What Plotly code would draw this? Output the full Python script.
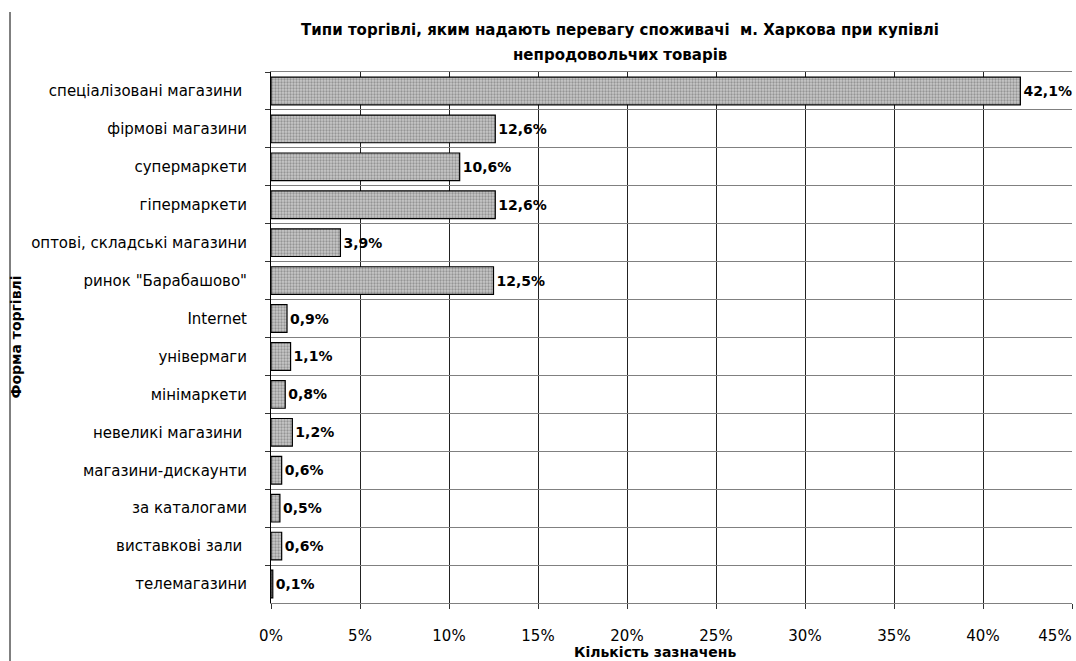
import plotly.graph_objects as go

categories = [
    "спеціалізовані магазини ",
    "фірмові магазини",
    "супермаркети",
    "гіпермаркети",
    "оптові, складські магазини",
    "ринок \"Барабашово\"",
    "Internet",
    "універмаги",
    "мінімаркети",
    "невеликі магазини ",
    "магазини-дискаунти",
    "за каталогами",
    "виставкові зали ",
    "телемагазини",
]
values = [42.1, 12.6, 10.6, 12.6, 3.9, 12.5, 0.9, 1.1, 0.8, 1.2, 0.6, 0.5, 0.6, 0.1]
x_ticks = [0, 5, 10, 15, 20, 25, 30, 35, 40]
x_last_tick = [45]
x_tick_labels = [f"{t}%" for t in x_ticks]
x_last_label = [f"{t}%" for t in x_last_tick]
title_line1 = "Типи торгівлі, яким надають перевагу споживачі  м. Харкова при купівлі"
title_line2 = "непродовольчих товарів"

labels = [f"{v:.1f}".replace(".", ",") + "%" for v in values]

FONT = "DejaVu Sans, Liberation Sans, Arial, sans-serif"

L, R, T, B = 271, 4, 72, 58
PW = 1076 - L - R
PH = 661 - T - B


def px_x(x):
    return (x - L) / PW


def px_y(y):
    return (661 - B - y) / PH


fig = go.Figure()
fig.add_trace(go.Bar(
    y=categories,
    x=values,
    orientation="h",
    text=labels,
    textposition="outside",
    cliponaxis=False,
    textfont=dict(family=FONT, size=14, color="black", weight="bold"),
    marker=dict(
        color="#c0c0c0",
        line=dict(color="black", width=1.2),
        pattern=dict(shape=".", fgcolor="#606060", bgcolor="#c8c8c8", size=3, solidity=0.45),
    ),
    hoverinfo="skip",
))
# invisible trace to carry the last tick label on an overlaid axis
fig.add_trace(go.Scatter(x=[0], y=[categories[0]], xaxis="x2", mode="markers",
                         marker=dict(opacity=0, size=1), hoverinfo="skip", showlegend=False))

xaxis_common = dict(
    range=[0, 45],
    ticklabelstandoff=14,
    tickfont=dict(family=FONT, size=15),
    ticklabeloverflow="allow",
    zeroline=False,
    fixedrange=True,
)

fig.update_layout(
    width=1076, height=661,
    margin=dict(l=L, r=R, t=T, b=B),
    paper_bgcolor="white",
    plot_bgcolor="white",
    showlegend=False,
    bargap=0.27,
    font=dict(family=FONT, size=15, color="black"),
    title=dict(
        text=title_line1,
        x=620 / 1076, xanchor="center", y=1 - 30 / 661, yanchor="middle",
        font=dict(family=FONT, size=15, color="black", weight="bold"),
    ),
    xaxis=dict(
        tickvals=x_ticks,
        ticktext=x_tick_labels,
        showgrid=True, gridcolor="#222222", gridwidth=1,
        showline=True, linecolor="#808080", linewidth=1, mirror=True,
        ticks="outside", ticklen=5, tickcolor="#333333",
        **xaxis_common,
    ),
    xaxis2=dict(
        overlaying="x",
        side="bottom",
        tickvals=x_last_tick,
        ticktext=x_last_label,
        ticklabelshift=-17,
        showgrid=False, showline=False,
        ticks="outside", ticklen=5, tickcolor="#333333",
        **xaxis_common,
    ),
    yaxis=dict(
        type="category",
        range=[len(categories) - 0.5, -0.5],
        tickson="boundaries",
        showgrid=True, gridcolor="#808080", gridwidth=1,
        showline=True, linecolor="black", linewidth=1,
        ticks="outside", ticklen=5, tickcolor="#333333",
        ticklabelstandoff=20,
        tickfont=dict(family=FONT, size=15),
        fixedrange=True,
    ),
)

fig.add_annotation(
    text=title_line2,
    xref="paper", yref="paper", x=px_x(620), y=px_y(55),
    xanchor="center", yanchor="middle", showarrow=False,
    font=dict(family=FONT, size=15, color="black", weight="bold"),
)
fig.add_annotation(
    text="Форма торгівлі", textangle=-90,
    xref="paper", yref="paper", x=px_x(15), y=0.5,
    xanchor="center", yanchor="middle", showarrow=False,
    font=dict(family=FONT, size=14, color="black", weight="bold"),
)
fig.add_annotation(
    text="Кількість зазначень",
    xref="paper", yref="paper", x=px_x(655), y=px_y(652),
    xanchor="center", yanchor="middle", showarrow=False,
    font=dict(family=FONT, size=14, color="black", weight="bold"),
)
fig.add_shape(
    type="line", xref="paper", yref="paper",
    x0=px_x(10), x1=px_x(10),
    y0=px_y(12), y1=px_y(661),
    line=dict(color="black", width=1),
)

fig.write_html("out.html")
